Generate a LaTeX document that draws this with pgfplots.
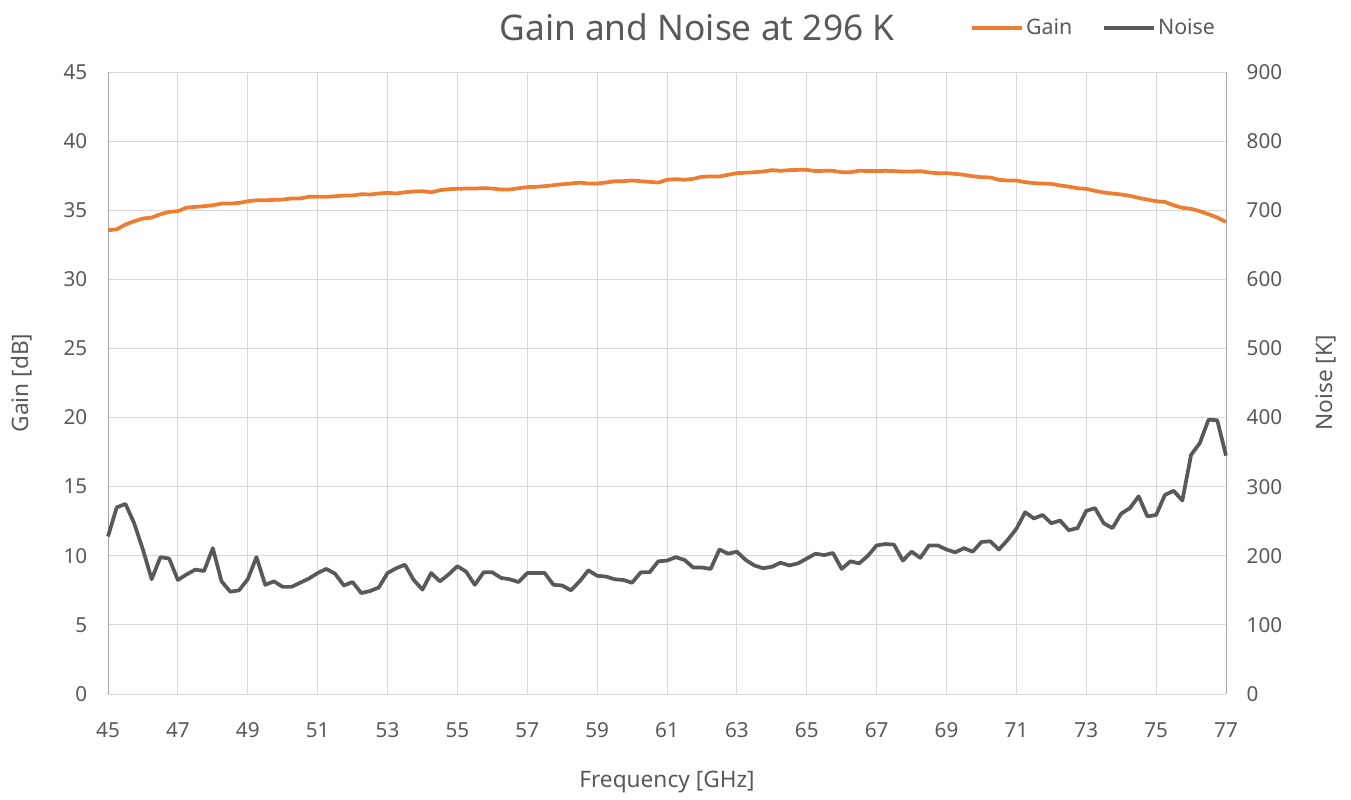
\documentclass[border=0pt]{standalone}
\usepackage{pgfplots}
\pgfplotsset{compat=1.18}
\usepackage{pgfplotstable}
\usepackage{fontspec}
\setmainfont{Noto Sans}
\definecolor{gainc}{HTML}{ED7D31}
\definecolor{noisec}{HTML}{595959}
\definecolor{txt}{HTML}{595959}
\definecolor{gridc}{HTML}{D9D9D9}
\definecolor{axc}{HTML}{A6A6A6}
\pgfplotstableread{
f gain noise
45.00 33.55 228
45.25 33.62 270
45.50 33.97 275
45.75 34.20 247
46.00 34.40 209
46.25 34.47 166
46.50 34.71 198
46.75 34.88 196
47.00 34.93 165
47.25 35.19 173
47.50 35.24 180
47.75 35.29 178
48.00 35.36 211
48.25 35.48 163
48.50 35.48 148
48.75 35.53 150
49.00 35.65 166
49.25 35.72 198
49.50 35.72 158
49.75 35.75 163
50.00 35.77 155
50.25 35.85 155
50.50 35.85 161
50.75 35.97 167
51.00 35.97 175
51.25 35.97 181
51.50 36.01 174
51.75 36.06 157
52.00 36.06 162
52.25 36.16 146
52.50 36.14 149
52.75 36.21 154
53.00 36.26 175
53.25 36.21 182
53.50 36.30 187
53.75 36.35 165
54.00 36.38 151
54.25 36.30 175
54.50 36.45 163
54.75 36.52 173
55.00 36.55 185
55.25 36.57 177
55.50 36.57 158
55.75 36.60 176
56.00 36.57 176
56.25 36.50 168
56.50 36.50 166
56.75 36.59 162
57.00 36.67 175
57.25 36.69 175
57.50 36.74 175
57.75 36.81 158
58.00 36.88 157
58.25 36.93 150
58.50 37.00 163
58.75 36.93 179
59.00 36.93 171
59.25 37.00 170
59.50 37.10 166
59.75 37.10 165
60.00 37.15 161
60.25 37.10 176
60.50 37.05 176
60.75 37.00 192
61.00 37.20 193
61.25 37.25 198
61.50 37.20 194
61.75 37.27 183
62.00 37.42 183
62.25 37.44 181
62.50 37.44 209
62.75 37.56 203
63.00 37.68 206
63.25 37.71 194
63.50 37.75 186
63.75 37.80 182
64.00 37.90 184
64.25 37.85 190
64.50 37.90 186
64.75 37.92 189
65.00 37.92 196
65.25 37.83 203
65.50 37.85 201
65.75 37.85 204
66.00 37.75 181
66.25 37.75 192
66.50 37.86 189
66.75 37.83 200
67.00 37.83 215
67.25 37.85 217
67.50 37.83 216
67.75 37.80 193
68.00 37.80 206
68.25 37.83 197
68.50 37.73 215
68.75 37.68 215
69.00 37.68 209
69.25 37.63 205
69.50 37.56 211
69.75 37.46 206
70.00 37.39 220
70.25 37.37 221
70.50 37.20 209
70.75 37.15 223
71.00 37.15 239
71.25 37.03 263
71.50 36.96 254
71.75 36.93 259
72.00 36.91 247
72.25 36.79 251
72.50 36.71 237
72.75 36.59 240
73.00 36.55 265
73.25 36.40 269
73.50 36.28 247
73.75 36.21 240
74.00 36.14 261
74.25 36.04 269
74.50 35.89 286
74.75 35.77 257
75.00 35.65 259
75.25 35.60 288
75.50 35.36 294
75.75 35.17 280
76.00 35.10 346
76.25 34.93 363
76.50 34.71 397
76.75 34.47 396
77.00 34.15 345
}\data
\begin{document}
\begin{tikzpicture}
\useasboundingbox (0,0) rectangle (1013.25pt,599.25pt);
\begin{axis}[
  at={(81pt,78.75pt)}, anchor=south west,
  scale only axis, width=838.5pt, height=466.5pt,
  xmin=45, xmax=77, ymin=0, ymax=45,
  xtick={45,47,...,77}, ytick={0,5,...,45},
  grid=major, major grid style={gridc, line width=0.75pt},
  major tick length=0pt,
  axis line style={gridc, line width=0.75pt},
  y axis line style={axc},
  axis x line*=bottom, axis y line*=left,
  tick label style={font=\fontsize{15.5}{18}\selectfont, text=txt},
  /pgf/number format/assume math mode=true,
  xticklabel style={yshift=-18pt},
  yticklabel style={xshift=-12pt},
  xlabel={Frequency [GHz]}, ylabel={Gain [dB]},
  label style={font=\fontsize{17}{20}\selectfont, text=txt},
  xlabel style={yshift=-18pt},
  ylabel style={yshift=17pt},
  clip=false,
]
\addplot[gainc, line width=2.8pt, line join=round] table[x=f, y=gain] {\data};
\end{axis}
\begin{axis}[
  at={(81pt,78.75pt)}, anchor=south west,
  scale only axis, width=838.5pt, height=466.5pt,
  xmin=45, xmax=77, ymin=0, ymax=900,
  ytick={0,100,...,900},
  axis x line=none, axis y line*=right,
  y axis line style={axc, line width=0.75pt},
  major tick length=0pt,
  tick label style={font=\fontsize{15.5}{18}\selectfont, text=txt},
  /pgf/number format/assume math mode=true,
  yticklabel style={xshift=12pt},
  ylabel={Noise [K]},
  label style={font=\fontsize{17}{20}\selectfont, text=txt},
  ylabel style={yshift=-18pt},
  legend style={at={(0.767,1.0707)}, anchor=west, draw=none, fill=none,
    font=\fontsize{16}{19}\selectfont, text=txt, legend columns=2,
    /tikz/every even column/.append style={column sep=20pt}},
  legend image code/.code={\draw[#1] (0pt,0pt) -- (37.5pt,0pt);},
  legend cell align=left,
  clip=false,
]
\addlegendimage{gainc, line width=2.8pt}
\addlegendentry{Gain}
\addplot[noisec, line width=2.8pt, line join=round] table[x=f, y=noise] {\data};
\addlegendentry{Noise}
\end{axis}
\node[text=txt, font=\fontsize{26.5}{31}\selectfont] at (522.75pt,579pt) {Gain and Noise at 296 K};
\end{tikzpicture}
\end{document}
